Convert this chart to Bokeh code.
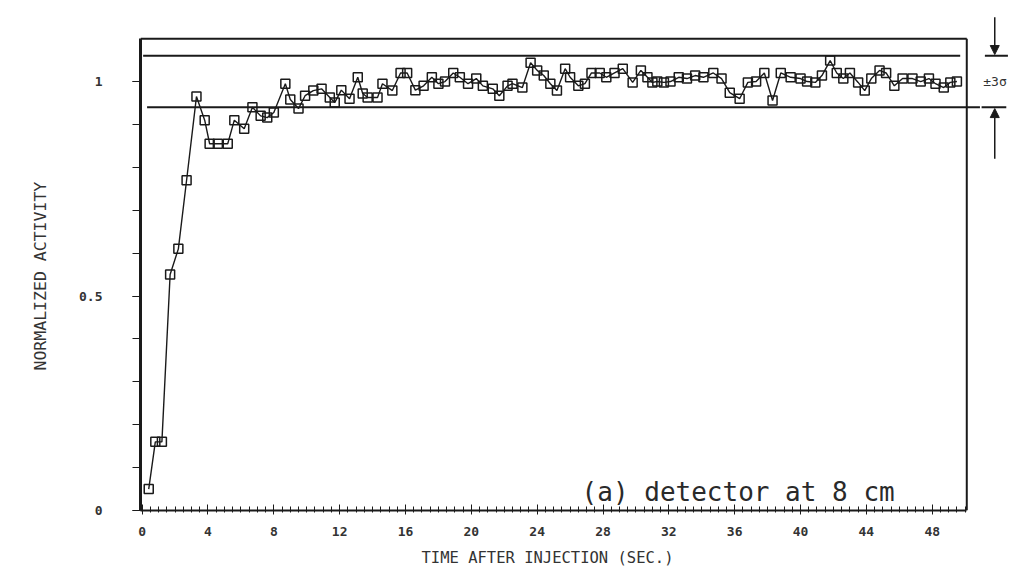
from bokeh.plotting import figure
from bokeh.models import Arrow, NormalHead, Label, FixedTicker, ColumnDataSource, Title
from bokeh.embed import file_html
from bokeh.resources import INLINE

# time after injection (s) and normalized activity
time_s = [0.4, 0.8, 1.2, 1.7, 2.2, 2.7, 3.3, 3.8, 4.1, 4.6, 5.2, 5.6, 6.2, 6.7, 7.2, 7.6, 8.0,
          8.7, 9.0, 9.5, 9.9, 10.4, 10.9, 11.4, 11.7, 12.1, 12.6, 13.1, 13.4, 13.7, 14.3, 14.6,
          15.2, 15.7, 16.1, 16.6, 17.1, 17.6, 18.0, 18.4, 18.9, 19.3, 19.8, 20.3, 20.7, 21.3,
          21.7, 22.2, 22.5, 23.1, 23.6, 24.0, 24.4, 24.8, 25.2, 25.7, 26.0, 26.5, 26.9, 27.3,
          27.8, 28.2, 28.7, 29.2, 29.8, 30.3, 30.7, 31.0, 31.3, 31.7, 32.1, 32.6, 33.1, 33.6,
          34.1, 34.7, 35.2, 35.7, 36.3, 36.8, 37.3, 37.8, 38.3, 38.8, 39.4, 40.0, 40.4, 40.9,
          41.3, 41.8, 42.2, 42.6, 43.0, 43.5, 43.9, 44.3, 44.8, 45.2, 45.7, 46.2, 46.8, 47.3,
          47.8, 48.2, 48.7, 49.1, 49.5]
activity = [0.05, 0.16, 0.16, 0.55, 0.61, 0.77, 0.965, 0.91, 0.855, 0.855, 0.855, 0.91, 0.89,
            0.94, 0.92, 0.916, 0.928, 0.995, 0.958, 0.937, 0.967, 0.979, 0.983, 0.963, 0.951,
            0.98, 0.96, 1.01, 0.972, 0.963, 0.963, 0.995, 0.979, 1.02, 1.02, 0.98, 0.99, 1.01,
            0.995, 1.0, 1.02, 1.01, 0.995, 1.007, 0.99, 0.983, 0.967, 0.99, 0.995, 0.986, 1.044,
            1.026, 1.014, 0.995, 0.979, 1.03, 1.01, 0.99, 0.995, 1.02, 1.02, 1.01, 1.02, 1.03,
            0.998, 1.026, 1.01, 0.998, 1.0, 0.998, 1.0, 1.01, 1.007, 1.014, 1.01, 1.02, 1.007,
            0.974, 0.96, 0.998, 1.0, 1.02, 0.956, 1.02, 1.01, 1.007, 1.0, 0.998, 1.014, 1.049,
            1.02, 1.007, 1.02, 0.998, 0.979, 1.007, 1.026, 1.02, 0.99, 1.007, 1.007, 1.0, 1.007,
            0.995, 0.986, 0.998, 1.0]

band_upper = 1.06
band_lower = 0.94
x_min, x_max = -0.1, 50.1          # plotted box in seconds
y_min, y_max = 0.0, 1.1            # plotted box in activity units
x_ticks = [0, 4, 8, 12, 16, 20, 24, 28, 32, 36, 40, 44, 48]
x_minor = [i * 0.5 for i in range(0, 101)]
y_ticks = [0, 0.5, 1]
y_minor = [i / 10 for i in range(0, 11)]
y_labels = {0: "0", 0.5: "0.5", 1: "1"}
x_title = "TIME AFTER INJECTION (SEC.)"
y_title = "NORMALIZED ACTIVITY"
annotation_text = "(a)  detector at 8 cm"
band_text = "±3σ"

INK = "#1a1a1a"
MONO = "DejaVu Sans Mono"

# frame is widened to the right (and up) so the band marker beside the box can be drawn
p = figure(width=1023, height=588, x_range=(x_min, 53.06), y_range=(y_min, 1.161),
           output_backend="svg", toolbar_location=None,
           min_border_left=140, min_border_right=8, min_border_top=12, min_border_bottom=78)
p.background_fill_color = "white"
p.border_fill_color = "white"
p.grid.visible = False
p.outline_line_color = None

# box: top and right edges
p.segment(x0=[x_min, x_max], y0=[y_max, y_min], x1=[x_max, x_max], y1=[y_max, y_max],
          line_color=INK, line_width=2)

# the two band lines
p.segment(x0=[0.06, 0.3], y0=[band_upper, band_lower], x1=[49.7, 50.9], y1=[band_upper, band_lower],
          line_color=INK, line_width=2)

src = ColumnDataSource(dict(t=time_s, a=activity))
p.line("t", "a", source=src, line_color=INK, line_width=1.4)
p.scatter("t", "a", source=src, marker="square", size=9, fill_alpha=0,
          line_color=INK, line_width=1.5)

# x axis
xa = p.xaxis[0]
xa.bounds = (x_min, x_max)
xa.ticker = FixedTicker(ticks=x_ticks, minor_ticks=x_minor)
xa.axis_line_width = 2
xa.axis_line_color = INK
xa.major_tick_in = 6
xa.major_tick_out = 4
xa.minor_tick_in = 4
xa.minor_tick_out = 2
xa.major_tick_line_color = INK
xa.minor_tick_line_color = INK
xa.major_label_standoff = 12
xa.major_label_text_font = MONO
xa.major_label_text_font_size = "13px"
xa.major_label_text_font_style = "bold"
xa.major_label_text_color = "#333333"

# y axis
ya = p.yaxis[0]
ya.bounds = (y_min, y_max)
ya.ticker = FixedTicker(ticks=y_ticks, minor_ticks=y_minor)
ya.major_label_overrides = y_labels
ya.axis_line_width = 3
ya.axis_line_color = INK
ya.major_tick_in = 0
ya.major_tick_out = 8
ya.minor_tick_in = 0
ya.minor_tick_out = 8
ya.major_tick_line_color = INK
ya.minor_tick_line_color = INK
ya.major_label_standoff = 30
ya.major_label_text_font = MONO
ya.major_label_text_font_size = "13px"
ya.major_label_text_font_style = "bold"
ya.major_label_text_color = "#333333"

# axis titles placed as titles so they stay centred on the box, not on the widened frame
p.add_layout(Title(text=x_title, align="left", offset=281, standoff=16, text_font=MONO,
                   text_font_size="15.5px", text_font_style="normal", text_color="#333333"), "below")
p.add_layout(Title(text=y_title, align="left", offset=140, standoff=54, text_font=MONO,
                   text_font_size="16.5px", text_font_style="normal", text_color="#333333"), "left")

# annotation text inside the plot
p.add_layout(Label(x=26.7, y=0.044, text=annotation_text, text_font=MONO,
                   text_font_size="26px", text_color="#2a2a2a", text_baseline="alphabetic"))

# band marker on the right of the box
p.add_layout(Arrow(end=NormalHead(size=9, fill_color=INK, line_color=INK),
                   x_start=51.8, y_start=1.15, x_end=51.8, y_end=band_upper + 0.003,
                   line_color=INK, line_width=1.5))
p.add_layout(Arrow(end=NormalHead(size=9, fill_color=INK, line_color=INK),
                   x_start=51.8, y_start=0.82, x_end=51.8, y_end=band_lower - 0.003,
                   line_color=INK, line_width=1.5))
p.segment(x0=[51.2, 51.0], y0=[band_upper, band_lower], x1=[52.6, 52.5], y1=[band_upper, band_lower],
          line_color=INK, line_width=2)
p.add_layout(Label(x=51.1, y=1.0, text=band_text, text_font=MONO, text_font_size="13px",
                   text_color="#333333", text_baseline="middle"))

open("out.html", "w").write(file_html(p, INLINE))
